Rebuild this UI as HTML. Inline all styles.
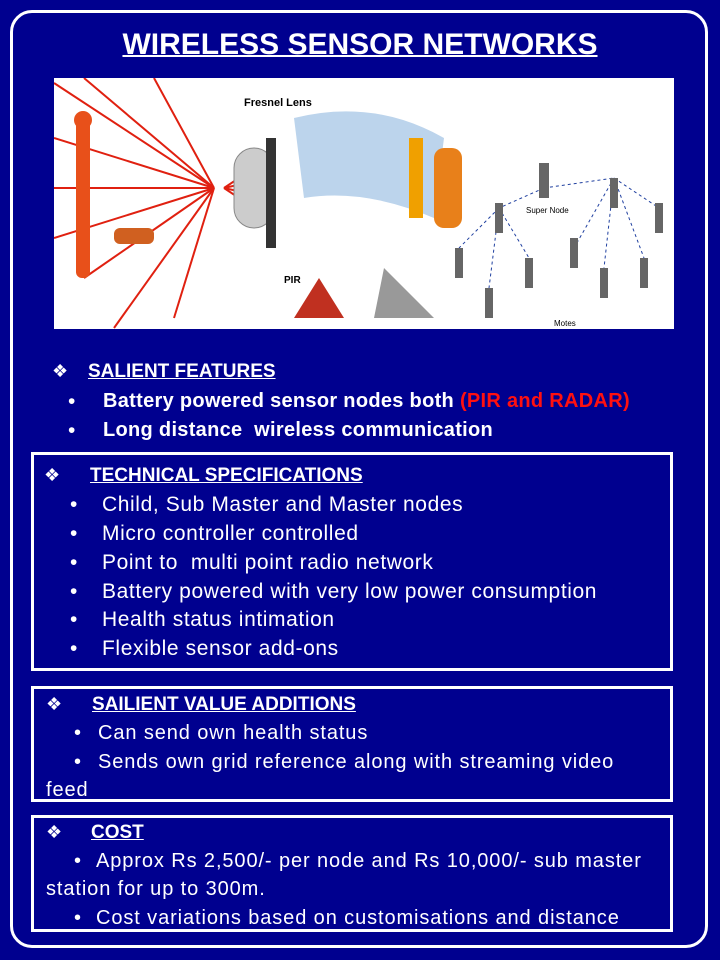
<!DOCTYPE html>
<html><head><meta charset="utf-8">
<style>
html,body{margin:0;padding:0}
body{width:720px;height:960px;background:#00008f;position:relative;overflow:hidden;font-family:"Liberation Sans",sans-serif;color:#fff}
.frame{position:absolute;left:10px;top:10px;width:692px;height:932px;border:3px solid #fff;border-radius:22px}
.title{position:absolute;left:0;width:720px;top:28px;text-align:center;font-size:30px;font-weight:bold;text-decoration:underline;text-decoration-thickness:2px}
.pic{position:absolute;left:54px;top:78px;width:620px;height:251px;background:#fff}
.box{position:absolute;left:31px;width:636px;border:3px solid #fff}
.t{position:absolute;font-size:21px;white-space:nowrap;letter-spacing:0.6px}
.s{position:absolute;font-size:20px;white-space:nowrap;letter-spacing:0.9px}
.d{position:absolute;font-size:18px;white-space:nowrap}
.h{position:absolute;font-size:19px;white-space:nowrap;font-weight:bold;text-decoration:underline}
.b{font-weight:bold;letter-spacing:0.3px;font-size:20px}
</style></head><body>
<div class="frame"></div>
<div class="title">WIRELESS SENSOR NETWORKS</div>
<svg class="pic" viewBox="0 0 620 251" width="620" height="251">
  <g stroke="#e02010" stroke-width="2" fill="none">
    <line x1="0" y1="5" x2="160" y2="110"/><line x1="30" y1="0" x2="160" y2="110"/><line x1="0" y1="60" x2="160" y2="110"/>
    <line x1="0" y1="110" x2="160" y2="110"/><line x1="0" y1="160" x2="160" y2="110"/><line x1="30" y1="200" x2="160" y2="110"/>
    <line x1="100" y1="0" x2="160" y2="110"/><line x1="120" y1="240" x2="160" y2="110"/><line x1="60" y1="250" x2="160" y2="110"/>
    <line x1="170" y1="110" x2="215" y2="80"/><line x1="170" y1="110" x2="215" y2="100"/><line x1="170" y1="110" x2="215" y2="120"/><line x1="170" y1="110" x2="215" y2="140"/>
  </g>
  <rect x="22" y="40" width="14" height="160" rx="6" fill="#e8501a"/>
  <circle cx="29" cy="42" r="9" fill="#e8501a"/>
  <rect x="60" y="150" width="40" height="16" rx="6" fill="#d06020"/>
  <rect x="180" y="70" width="40" height="80" rx="20" fill="#ccc" stroke="#888"/>
  <rect x="212" y="60" width="10" height="110" fill="#333"/>
  <text x="190" y="28" font-size="11" font-weight="bold" fill="#000">Fresnel Lens</text>
  <path d="M240 40 Q320 20 390 60 L380 140 Q310 110 250 120Z" fill="#bcd4ec"/>
  <rect x="355" y="60" width="14" height="80" fill="#f0a000"/>
  <rect x="380" y="70" width="28" height="80" rx="10" fill="#e8801a"/>
  <text x="230" y="205" font-size="10" font-weight="bold" fill="#000">PIR</text>
  <path d="M240 240 L265 200 L290 240Z" fill="#c03020"/>
  <path d="M320 240 L330 190 L380 240Z" fill="#999"/>
  <g stroke="#2040a0" stroke-dasharray="3,3" fill="none">
    <line x1="490" y1="110" x2="445" y2="130"/><line x1="490" y1="110" x2="560" y2="100"/>
    <line x1="445" y1="130" x2="405" y2="170"/><line x1="445" y1="130" x2="475" y2="180"/><line x1="445" y1="130" x2="435" y2="210"/>
    <line x1="560" y1="100" x2="520" y2="170"/><line x1="560" y1="100" x2="550" y2="190"/><line x1="560" y1="100" x2="590" y2="180"/><line x1="560" y1="100" x2="605" y2="130"/>
  </g>
  <g fill="#666">
    <rect x="485" y="85" width="10" height="35"/><rect x="441" y="125" width="8" height="30"/><rect x="556" y="100" width="8" height="30"/>
    <rect x="401" y="170" width="8" height="30"/><rect x="471" y="180" width="8" height="30"/><rect x="431" y="210" width="8" height="30"/>
    <rect x="516" y="160" width="8" height="30"/><rect x="546" y="190" width="8" height="30"/><rect x="586" y="180" width="8" height="30"/><rect x="601" y="125" width="8" height="30"/>
  </g>
  <text x="472" y="135" font-size="8" fill="#000">Super Node</text>
  <text x="500" y="248" font-size="8" fill="#000">Motes</text>
</svg>

<div class="d" style="left:52px;top:361px">❖</div>
<div class="h" style="left:88px;top:361px">SALIENT FEATURES</div>
<div class="t" style="left:68px;top:390px">•</div>
<div class="t b" style="left:103px;top:390px">Battery powered sensor nodes both <span style="color:#ff1010">(PIR and RADAR)</span></div>
<div class="t" style="left:68px;top:419px">•</div>
<div class="t b" style="left:103px;top:419px">Long distance&nbsp; wireless communication</div>

<div class="box" style="top:452px;height:213px"></div>
<div class="d" style="left:44px;top:465px">❖</div>
<div class="h" style="left:90px;top:465px">TECHNICAL SPECIFICATIONS</div>
<div class="t" style="left:70px;top:493px">•</div>
<div class="t" style="left:102px;top:493px">Child, Sub Master and Master nodes</div>
<div class="t" style="left:70px;top:522px">•</div>
<div class="t" style="left:102px;top:522px">Micro controller controlled</div>
<div class="t" style="left:70px;top:551px">•</div>
<div class="t" style="left:102px;top:551px">Point to&nbsp; multi point radio network</div>
<div class="t" style="left:70px;top:580px">•</div>
<div class="t" style="left:102px;top:580px">Battery powered with very low power consumption</div>
<div class="t" style="left:70px;top:608px">•</div>
<div class="t" style="left:102px;top:608px">Health status intimation</div>
<div class="t" style="left:70px;top:637px">•</div>
<div class="t" style="left:102px;top:637px">Flexible sensor add-ons</div>

<div class="box" style="top:686px;height:110px"></div>
<div class="d" style="left:46px;top:694px">❖</div>
<div class="h" style="left:92px;top:694px">SAILIENT VALUE ADDITIONS</div>
<div class="s" style="left:74px;top:722px">•</div>
<div class="s" style="left:98px;top:722px">Can send own health status</div>
<div class="s" style="left:74px;top:751px">•</div>
<div class="s" style="left:98px;top:751px">Sends own grid reference along with streaming video</div>
<div class="s" style="left:46px;top:779px">feed</div>

<div class="box" style="top:815px;height:111px"></div>
<div class="d" style="left:46px;top:822px">❖</div>
<div class="h" style="left:91px;top:822px">COST</div>
<div class="s" style="left:74px;top:850px">•</div>
<div class="s" style="left:96px;top:850px">Approx Rs 2,500/- per node and Rs 10,000/- sub master</div>
<div class="s" style="left:46px;top:878px">station for up to 300m.</div>
<div class="s" style="left:74px;top:907px">•</div>
<div class="s" style="left:96px;top:907px">Cost variations based on customisations and distance</div>
</body></html>
